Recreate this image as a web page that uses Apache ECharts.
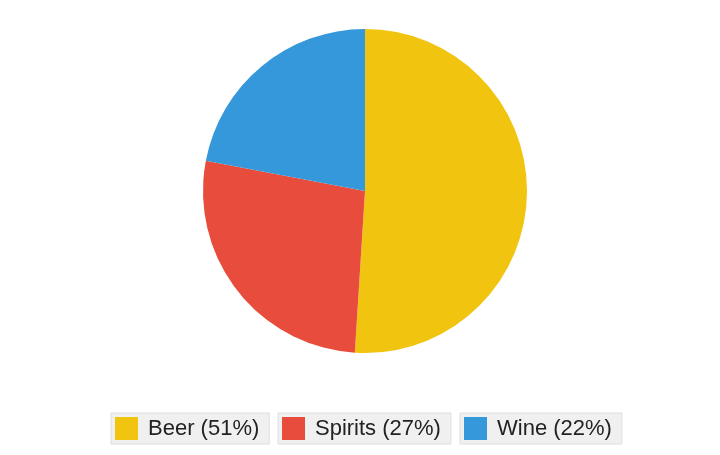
<!DOCTYPE html>
<html>
<head>
<meta charset="utf-8">
<script src="https://cdn.jsdelivr.net/npm/echarts@6/dist/echarts.min.js"></script>
<style>html,body{margin:0;padding:0;background:#fff;}#c{width:720px;height:455px;}</style>
</head>
<body>
<div id="c"></div>
<script>
const categories = ['Beer', 'Spirits', 'Wine'];
const values = [51, 27, 22];
const colors = ['#f1c40f', '#e74c3c', '#3498db'];
const legendLefts = [111, 278, 460];

const total = values.reduce((a, b) => a + b, 0);
const pct = {};
categories.forEach((c, i) => { pct[c] = Math.round(values[i] / total * 100); });

const chart = echarts.init(document.getElementById('c'));
chart.setOption({
  animation: false,
  color: colors,
  legend: categories.map((c, i) => ({
    data: [c],
    left: legendLefts[i],
    top: 413,
    orient: 'horizontal',
    icon: 'rect',
    itemWidth: 23,
    itemHeight: 23,
    padding: [4, 10, 4, 4],
    backgroundColor: '#f0f0f0',
    borderColor: '#dedede',
    borderWidth: 1,
    selectedMode: false,
    formatter: name => name + ' (' + pct[name] + '%)',
    textStyle: { fontSize: 22, fontFamily: 'Liberation Sans, Arial, sans-serif', color: '#222', padding: [0, 0, 0, 5] }
  })),
  series: [{
    type: 'pie',
    center: [365, 191],
    radius: 162,
    startAngle: 90,
    clockwise: true,
    label: { show: false },
    labelLine: { show: false },
    emphasis: { disabled: true },
    itemStyle: { borderWidth: 0 },
    data: categories.map((c, i) => ({ name: c, value: values[i] }))
  }]
});
</script>
</body>
</html>
